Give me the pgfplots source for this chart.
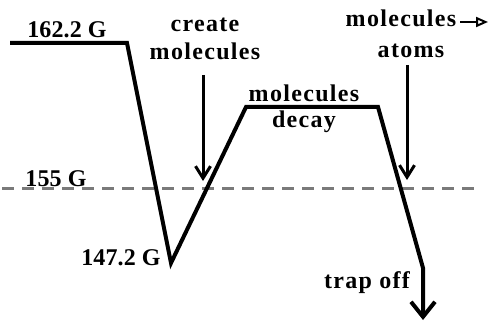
\documentclass[border=0pt]{standalone}
\usepackage{fontspec}
\setmainfont{Liberation Serif}[LetterSpace=5.5]
\newfontfamily\numfont{Liberation Serif}[LetterSpace=0.5]
\usepackage{pgfplots}
\pgfplotsset{compat=1.18}
\usetikzlibrary{arrows.meta}
\definecolor{dashgray}{RGB}{122,122,122}
\tikzset{
  lbl/.style={font=\fontsize{24bp}{28bp}\selectfont\bfseries, anchor=base, inner sep=0pt},
  num/.style={font=\fontsize{24bp}{28bp}\selectfont\numfont\bfseries, anchor=base, inner sep=0pt},
}

\begin{document}
\begin{tikzpicture}
  \begin{axis}[
      width=490bp, height=322bp, scale only axis,
      xmin=0, xmax=490, ymin=0, ymax=322,
      hide axis, clip=false,
    ]
    \path (rel axis cs:0,0) rectangle (rel axis cs:1,1);
    % 155 G reference level
    \addplot[dashgray, line width=3bp, dash pattern=on 12bp off 8bp] coordinates {(2,134) (480,134)};
    % field ramp
    \addplot[black, line width=4bp, -{Straight Barb[length=15bp,width=24bp]}] coordinates {
      (10,279) (127,279) (171,59) (246,215) (378,215) (423,54) (423,2)
    };
    % pointer arrows
    \addplot[black, line width=3bp, -{Straight Barb[length=12bp,width=15bp]}] coordinates {(203,247) (203,141)};
    \addplot[black, line width=3bp, -{Straight Barb[length=12bp,width=15bp]}] coordinates {(407,257) (407,142)};

    \node[num] at (axis cs:67,284) {162.2 G};
    \node[lbl] at (axis cs:205,290) {create};
    \node[lbl] at (axis cs:205,262) {molecules};
    \node[lbl] at (axis cs:304,220) {molecules};
    \node[lbl] at (axis cs:304,194) {decay};
    \node[lbl] at (axis cs:401,295) {molecules};
    \draw[line width=2.2bp, -{Triangle[open,length=12bp,width=10bp,line width=2bp]}] (axis cs:460,300) -- (axis cs:488,300);
    \node[lbl] at (axis cs:411,264) {atoms};
    \node[num] at (axis cs:56,136) {155 G};
    \node[num] at (axis cs:121,57) {147.2 G};
    \node[lbl] at (axis cs:367,34) {trap off};
  \end{axis}
\end{tikzpicture}
\end{document}
